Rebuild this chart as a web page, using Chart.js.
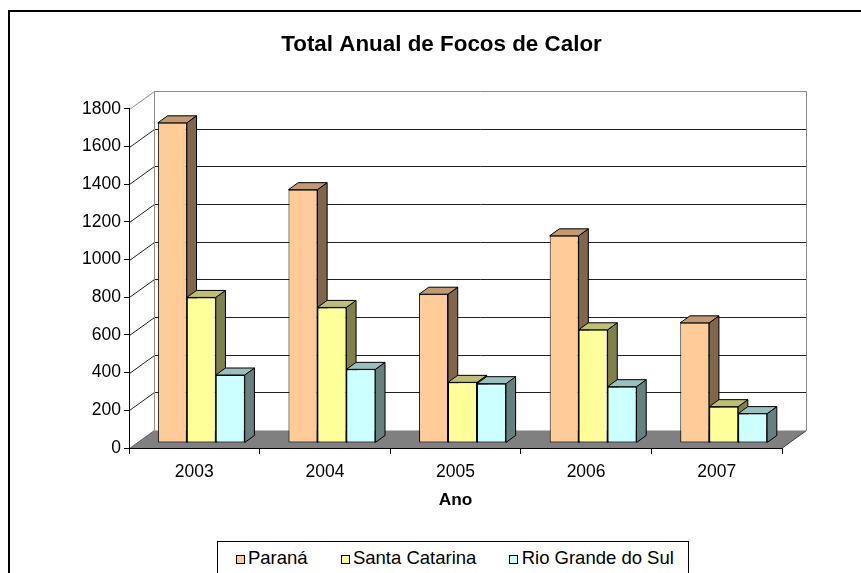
<!DOCTYPE html>
<html>
<head>
<meta charset="utf-8">
<title>Total Anual de Focos de Calor</title>
<script src="https://cdn.jsdelivr.net/npm/chart.js@4.4.1/dist/chart.umd.min.js"></script>
<style>
  body { margin: 0; background: #fff; }
  #wrap { position: relative; width: 861px; height: 573px; overflow: hidden; }
  #chart { position: absolute; left: 0; top: 0; }
  #legend {
    position: absolute; left: 217px; top: 541px; width: 472px; height: 60px;
    box-sizing: border-box; border: 1px solid #000; background: #fff;
    padding: 5px 0 0 17.7px; white-space: nowrap;
    font: 18.5px 'Liberation Sans', Arial, sans-serif; line-height: 21px;
  }
  .bx { display: inline-block; width: 7px; height: 7px; border: 1px solid #000; margin-right: 3.3px; }
  .it { margin-right: 33px; }
</style>
</head>
<body>
<div id="wrap">
  <canvas id="chart" width="861" height="573"></canvas>
  <div id="legend"></div>
</div>
<script>
// Total anual de focos de calor por estado

const years = ['2003', '2004', '2005', '2006', '2007'];
const parana = [1700, 1345, 790, 1100, 638];
const santaCatarina = [773, 720, 322, 601, 193];
const rioGrandeDoSul = [361, 391, 315, 299, 156];
const seriesNames = ['Paraná', 'Santa Catarina', 'Rio Grande do Sul'];
const yMax = 1800;
const yStep = 200;

// face colours: front, top, side
const frontColors = ['#FFCC99', '#FFFF99', '#CCFFFF'];
const topColors = ['#C29970', '#BFBF73', '#99BFBF'];
const sideColors = ['#80664C', '#80804C', '#668080'];

const wallDepth = { x: 25, y: -18 };   // front axis -> back wall
const barShift = { x: 7, y: -5 };      // front axis -> bar front faces
const barDepth = { x: 9.7, y: -7 };    // thickness of each bar
const titleShift = 20.5;               // excel centres the title on the whole frame

const FONT = "'Liberation Sans', Arial, sans-serif";
Chart.defaults.font.family = FONT;
Chart.defaults.color = '#000';

function poly(ctx, pts, fill, stroke) {
    ctx.beginPath();
    ctx.moveTo(pts[0][0], pts[0][1]);
    for (let i = 1; i < pts.length; i++) ctx.lineTo(pts[i][0], pts[i][1]);
    ctx.closePath();
    if (fill) { ctx.fillStyle = fill; ctx.fill(); }
    if (stroke) { ctx.strokeStyle = stroke; ctx.stroke(); }
}

// walls, floor and the hidden faces of the bars
const fake3d = {
    id: 'fake3d',
    afterLayout(chart) {
        const t = chart.titleBlock;
        if (t) { t.left += titleShift; t.right += titleShift; }
    },
    beforeDraw(chart) {
        const ctx = chart.ctx;
        const a = chart.chartArea;
        const yScale = chart.scales.y;
        const dx = wallDepth.x, dy = wallDepth.y;
        const xl = a.left + 0.5, xr = a.right - 0.5;
        const yb = Math.round(yScale.getPixelForValue(0)) + 0.5;
        const yt = Math.round(yScale.getPixelForValue(yMax)) + 0.5;

        ctx.save();
        // outer frame
        ctx.lineWidth = 2;
        ctx.strokeStyle = '#000';
        ctx.strokeRect(9, 11, chart.width + 40, chart.height + 40);

        ctx.lineWidth = 1;
        // floor
        poly(ctx, [[xl, yb], [xr, yb], [xr + dx, yb + dy], [xl + dx, yb + dy]], '#808080', null);
        ctx.strokeStyle = '#404040';
        ctx.beginPath(); ctx.moveTo(xr, yb); ctx.lineTo(xr + dx, yb + dy); ctx.stroke();

        // gridlines on side wall and back wall
        ctx.strokeStyle = '#222';
        for (let v = yStep; v < yMax; v += yStep) {
            const py = Math.round(yScale.getPixelForValue(v)) + 0.5;
            ctx.beginPath();
            ctx.moveTo(xl, py);
            ctx.lineTo(xl + dx, py + dy);
            ctx.lineTo(xr + dx, py + dy);
            ctx.stroke();
        }
        // wall outline
        ctx.strokeStyle = '#8c8c8c';
        ctx.beginPath();
        ctx.moveTo(xl, yt);
        ctx.lineTo(xl + dx, yt + dy);
        ctx.lineTo(xr + dx, yt + dy);
        ctx.lineTo(xr + dx, yb + dy);
        ctx.moveTo(xl + dx, yt + dy);
        ctx.lineTo(xl + dx, yb + dy);
        ctx.stroke();
        ctx.strokeStyle = '#606060';
        ctx.beginPath();
        ctx.moveTo(xl, yb);
        ctx.lineTo(xl + dx, yb + dy);
        ctx.stroke();

        // top and side faces of the bars
        ctx.lineWidth = 1;
        chart.data.datasets.forEach((ds, di) => {
            const meta = chart.getDatasetMeta(di);
            meta.data.forEach(bar => {
                const p = bar.getProps(['x', 'y', 'base', 'width'], true);
                const L = p.x - p.width / 2 + barShift.x;
                const R = p.x + p.width / 2 + barShift.x;
                const T = p.y + barShift.y;
                const B = p.base + barShift.y;
                poly(ctx, [[R, T], [R + barDepth.x, T + barDepth.y], [R + barDepth.x, B + barDepth.y], [R, B]], sideColors[di], '#000');
                poly(ctx, [[L, T], [L + barDepth.x, T + barDepth.y], [R + barDepth.x, T + barDepth.y], [R, T]], topColors[di], '#000');
            });
        });
        ctx.restore();
    },
    beforeDatasetsDraw(chart) {
        chart.ctx.save();
        chart.ctx.translate(barShift.x, barShift.y);
    },
    afterDatasetsDraw(chart) {
        chart.ctx.restore();
    }
};

const seriesValues = [parana, santaCatarina, rioGrandeDoSul];
const datasets = seriesNames.map((name, i) => ({
    label: name,
    data: seriesValues[i],
    backgroundColor: frontColors[i],
    borderColor: '#000',
    borderWidth: 1,
    borderSkipped: false,
    categoryPercentage: 0.665,
    barPercentage: 1.0,
    clip: false
}));

const chart = new Chart(document.getElementById('chart').getContext('2d'), {
    type: 'bar',
    data: { labels: years, datasets: datasets },
    plugins: [fake3d],
    options: {
        responsive: false,
        animation: false,
        devicePixelRatio: 1,
        layout: { padding: { top: 11, left: 60, right: 79, bottom: 0 } },
        plugins: {
            legend: { display: false },
            tooltip: { enabled: false },
            title: {
                display: true,
                text: 'Total Anual de Focos de Calor',
                color: '#000',
                font: { size: 22.4, weight: 'bold' },
                padding: { top: 20.3, bottom: 50.8 }
            }
        },
        scales: {
            x: {
                afterFit: s => { s.height = 125; },
                grid: { drawOnChartArea: false, drawTicks: true, tickLength: 6, color: '#000' },
                border: { color: '#000', width: 1 },
                ticks: { font: { size: 17.5 }, padding: 7.7, maxRotation: 0, autoSkip: false },
                title: {
                    display: true,
                    text: 'Ano',
                    font: { size: 17.3, weight: 'bold' },
                    padding: { top: 0, bottom: 62.6 }
                }
            },
            y: {
                min: 0,
                max: yMax,
                afterFit: s => { s.width = 69; },
                grid: { drawOnChartArea: false, drawTicks: true, tickLength: 5, color: '#000' },
                border: { color: '#000', width: 1 },
                ticks: {
                    stepSize: yStep,
                    font: { size: 17.5 },
                    padding: 3,
                    callback: value => String(value)
                }
            }
        }
    }
});

// legend box built from the chart's datasets
const legendBox = document.getElementById('legend');
chart.data.datasets.forEach(ds => {
    const item = document.createElement('span');
    item.className = 'it';
    const sw = document.createElement('i');
    sw.className = 'bx';
    sw.style.background = ds.backgroundColor;
    item.appendChild(sw);
    item.appendChild(document.createTextNode(ds.label));
    legendBox.appendChild(item);
});
</script>
</body>
</html>
